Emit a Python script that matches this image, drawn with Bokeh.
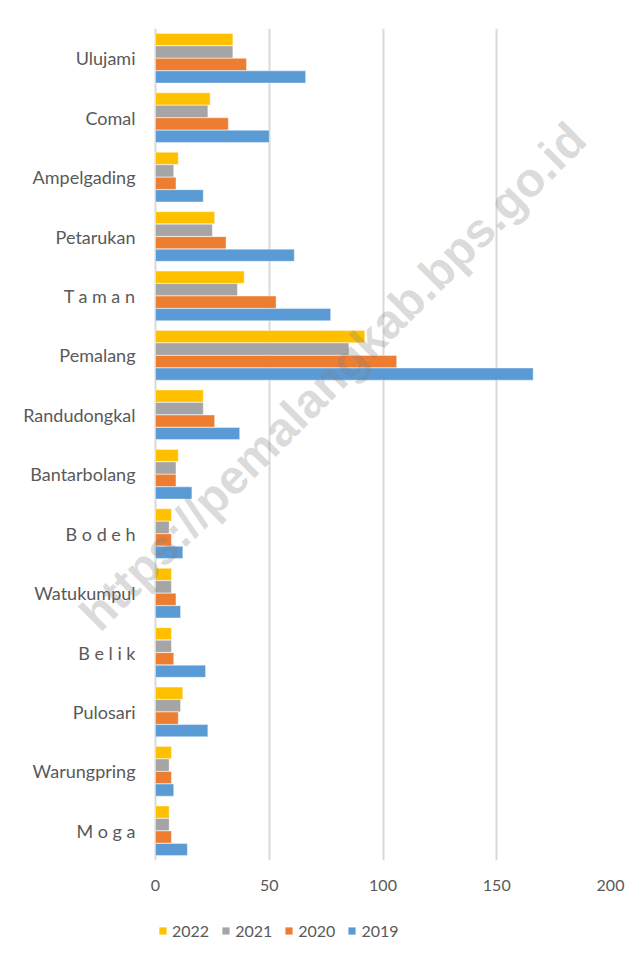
from bokeh.plotting import figure
from bokeh.models import ColumnDataSource, FactorRange, Legend, LegendItem, Label, Range1d
from bokeh.core.properties import value
from bokeh.layouts import column
from bokeh.transform import dodge
from bokeh.embed import file_html
from bokeh.resources import INLINE
import math

# categories from bottom to top
categories = ["M o g a", "Warungpring", "Pulosari", "B e l i k", "Watukumpul",
              "B o d e h", "Bantarbolang", "Randudongkal", "Pemalang", "T a m a n",
              "Petarukan", "Ampelgading", "Comal", "Ulujami"]
v2019 = [14, 8, 23, 22, 11, 12, 16, 37, 166, 77, 61, 21, 50, 66]
v2020 = [7, 7, 10, 8, 9, 7, 9, 26, 106, 53, 31, 9, 32, 40]
v2021 = [6, 6, 11, 7, 7, 6, 9, 21, 85, 36, 25, 8, 23, 34]
v2022 = [6, 7, 12, 7, 7, 7, 10, 21, 92, 39, 26, 10, 24, 34]
series_names = ["2022", "2021", "2020", "2019"]
x_ticks = [0, 50, 100, 150, 200]
watermark = "https://pemalangkab.bps.go.id"

colors = {"2019": "#5B9BD5", "2020": "#ED7D31", "2021": "#A5A5A5", "2022": "#FFC000"}
offsets = {"2022": 0.315, "2021": 0.105, "2020": -0.105, "2019": -0.315}

src = ColumnDataSource(dict(cat=categories, y2019=v2019, y2020=v2020, y2021=v2021, y2022=v2022))

# frame spans the category-label area too (0 sits 155px from the left edge)
px_per_unit = 455 / 200
p = figure(width=625, height=905, output_backend="svg", toolbar_location=None,
           y_range=FactorRange(*categories), x_range=Range1d(-155 / px_per_unit, 200),
           min_border_left=0, min_border_right=15, min_border_top=28, min_border_bottom=45)
p.y_range.range_padding = 0
p.outline_line_color = None

for s in series_names:
    p.hbar(y=dodge("cat", offsets[s], range=p.y_range), right="y" + s, left=0,
           height=0.205, source=src, fill_color=colors[s],
           line_color="white", line_alpha=0.5, line_width=0.8)

# category labels
p.text(x=-20 / px_per_unit, y="cat", text="cat", source=src,
       text_align="right", text_baseline="middle",
       text_font=value("Lato"), text_font_size="18px", text_color="#595959")

# axes
p.xaxis.ticker = x_ticks
p.xaxis.axis_line_color = None
p.xaxis.major_tick_line_color = None
p.xaxis.minor_tick_line_color = None
p.xaxis.major_tick_out = 0
p.xaxis.major_tick_in = 0
p.xaxis.major_label_standoff = 19
p.xaxis.major_label_text_font = "Lato"
p.xaxis.major_label_text_font_size = "16px"
p.xaxis.major_label_text_color = "#595959"
p.yaxis.visible = False

p.xgrid.ticker = x_ticks
p.xgrid.grid_line_color = "#d9d9d9"
p.xgrid.grid_line_width = 2
p.ygrid.grid_line_color = None

# watermark
wm = Label(x=78, y=8.15, text=watermark, angle=math.radians(45.1),
           text_align="center", text_baseline="middle",
           text_font="Liberation Sans", text_font_style="bold", text_font_size="48px",
           text_color="#808080", text_alpha=0.28)
p.add_layout(wm)

# legend strip below the chart (its proxy bars have zero height and lie outside the view)
q = figure(width=625, height=38, output_backend="svg", toolbar_location=None,
           x_range=Range1d(1000, 1001), y_range=FactorRange(*categories),
           min_border_left=0, min_border_right=0, min_border_top=0, min_border_bottom=0)
q.axis.visible = False
q.grid.grid_line_color = None
q.outline_line_color = None
items = []
for s in series_names:
    r = q.hbar(y="cat", right="y" + s, left=0, height=0, source=src,
               fill_color=colors[s], line_color=None)
    items.append(LegendItem(label=s, renderers=[r]))
legend = Legend(items=items, orientation="horizontal", location=(158, 3),
                glyph_width=9, glyph_height=9, label_standoff=5, spacing=12,
                padding=0, margin=0, border_line_color=None, background_fill_alpha=0,
                label_text_font="Lato", label_text_font_size="16px",
                label_text_color="#595959")
q.add_layout(legend, "center")

layout = column(p, q, spacing=0)
open("out.html", "w").write(file_html(layout, INLINE))
